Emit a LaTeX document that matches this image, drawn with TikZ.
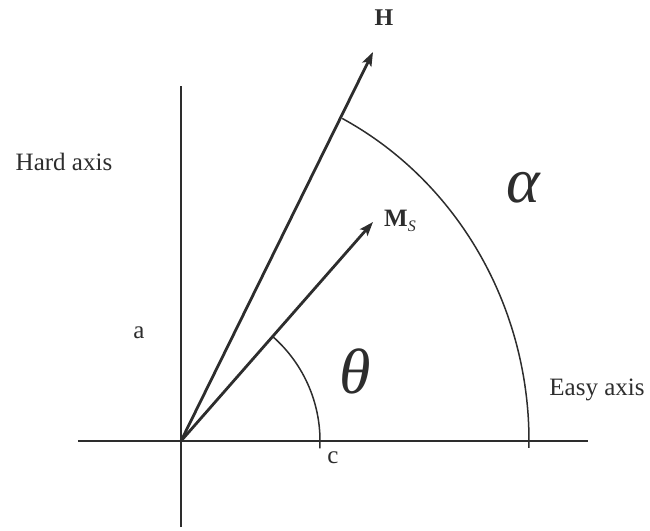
\documentclass[tikz,border=0pt]{standalone}
\usepackage{fontspec}
\setmainfont{Liberation Serif}
\usetikzlibrary{arrows.meta}
\definecolor{inkgray}{RGB}{45,45,45}
\tikzset{
  axisline/.style={draw=inkgray, line width=1.8pt},
  vecarr/.style  ={draw=inkgray, line width=2.8pt,
                   -{Stealth[length=14pt, width=10pt, inset=3pt]}},
  anglearc/.style={draw=inkgray, line width=1.5pt},
  lbl/.style     ={text=inkgray, inner sep=0pt,
                   font=\fontsize{25}{30}\selectfont},
  greek/.style   ={text=inkgray, inner sep=0pt,
                   font=\fontsize{64}{70}\selectfont\itshape},
}
\begin{document}
\begin{tikzpicture}[x=1pt, y=1pt]
  \useasboundingbox (-181,-89) rectangle (469,441);

  % axes
  \coordinate (O) at (0,0);
  \coordinate (hardtop) at (0,355);
  \coordinate (hardbot) at (0,-86);
  \coordinate (easyl) at (-103,0);
  \coordinate (easyr) at (407,0);
  \draw[axisline] (hardbot) -- (hardtop);
  \draw[axisline] (easyl) -- (easyr);

  % field and magnetisation
  \coordinate (Htip) at (192,389);
  \coordinate (Mtip) at (192,219);
  \draw[vecarr] (O) -- (Htip);
  \draw[vecarr] (O) -- (Mtip);

  % angles
  \coordinate (thst) at (-3:139);
  \coordinate (alst) at ({348*cos(-1.1)},{364*sin(-1.1)});
  \draw[anglearc] (thst) arc[start angle=-3, end angle=48.8, radius=139];
  \draw[anglearc] (alst) arc[start angle=-1.1, end angle=62.4,
                             x radius=348, y radius=364];

  % labels
  \node[lbl, font=\fontsize{24}{28}\selectfont\bfseries] (lH) at (203,423) {H};
  \node[lbl, anchor=west] (lM) at (203,220)
        {\textbf{M}\raisebox{-5pt}{\fontsize{16}{19}\selectfont\textit{S}}};
  \node[lbl] (hard) at (-117,279) {Hard axis};
  \node[lbl] (easy) at (416,51) {Easy axis};
  \node[lbl] (la) at (-42,108) {a};
  \node[lbl] (lc) at (152,-17) {c};
  \node[greek] (alpha) at (342,253) {α};
  \node[greek] (theta) at (174,70) {θ};
\end{tikzpicture}
\end{document}
